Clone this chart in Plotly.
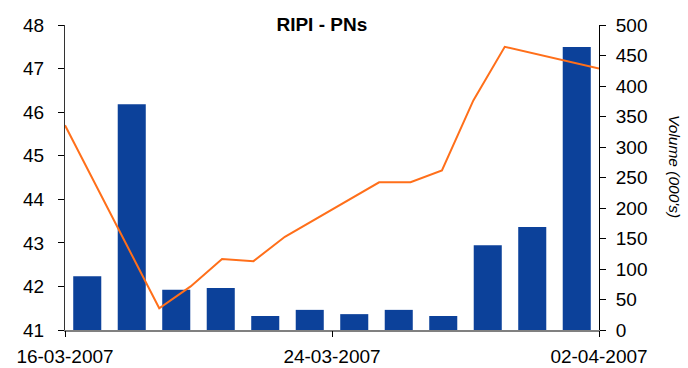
import plotly.graph_objects as go

# Trading days and daily data
trade_dates = ["2007-03-16", "2007-03-19", "2007-03-20", "2007-03-21", "2007-03-22",
               "2007-03-23", "2007-03-26", "2007-03-27", "2007-03-28", "2007-03-29",
               "2007-03-30", "2007-04-02"]
volume_000s = [88, 370, 66, 69, 23, 33, 26, 33, 23, 139, 169, 464]
price = [45.7, 41.5, 42.0, 42.63, 42.58, 43.14, 44.39, 44.39, 44.66, 46.27, 47.5, 47.0]

tick_dates = ["2007-03-16", "2007-03-24 12:00", "2007-04-02"]
tick_labels = ["16-03-2007", "24-03-2007", "02-04-2007"]

FONT = "Arial, Liberation Sans, sans-serif"
BAR_COLOR = "#0C419A"
LINE_COLOR = "#FF6F1A"

fig = go.Figure()

# Volume bars on the category axis (drawn first, underneath)
fig.add_trace(go.Bar(
    x=trade_dates, y=volume_000s, xaxis="x", yaxis="y",
    marker=dict(color=BAR_COLOR, line=dict(width=0)),
    name="Volume", showlegend=False,
))

# Price line on the calendar date axis
fig.add_trace(go.Scatter(
    x=trade_dates, y=price, xaxis="x2", yaxis="y2",
    mode="lines", line=dict(color=LINE_COLOR, width=2),
    name="Price", showlegend=False,
))

fig.update_layout(
    width=688, height=368,
    margin=dict(l=65, r=89, t=25, b=38, autoexpand=False),
    paper_bgcolor="white", plot_bgcolor="white",
    font=dict(family=FONT, size=19, color="#000"),
    bargap=0.37,
    title=dict(
        text="<b>RIPI - PNs</b>", font=dict(family=FONT, size=19, color="#000"),
        xref="paper", x=0.481, xanchor="center",
        yref="container", y=0.9334, yanchor="middle",
    ),
    xaxis=dict(
        type="category", range=[-0.5, 11.5], automargin=False,
        showticklabels=False, ticks="", showgrid=False, zeroline=False,
        showline=True, linecolor="#808080", linewidth=1.5,
    ),
    xaxis2=dict(
        type="date", overlaying="x", anchor="y", side="bottom", automargin=False,
        range=["2007-03-16", "2007-04-02"],
        tickmode="array", tickvals=tick_dates, ticktext=tick_labels,
        ticks="outside", ticklen=6, tickcolor="#000", tickwidth=1,
        ticklabelstandoff=3,
        showgrid=False, zeroline=False, showline=False,
        tickfont=dict(family=FONT, size=19, color="#000"),
    ),
    yaxis=dict(
        side="right", anchor="x", range=[0, 500], dtick=50, tick0=0, automargin=False,
        ticks="outside", ticklen=6, tickcolor="#000",
        showline=True, linecolor="#000", linewidth=1,
        showgrid=False, zeroline=False, ticklabelstandoff=6,
        tickfont=dict(family=FONT, size=19, color="#000"),
    ),
    yaxis2=dict(
        overlaying="y", side="left", anchor="x", range=[41, 48], dtick=1, tick0=41,
        automargin=False,
        ticks="outside", ticklen=6, tickcolor="#000",
        showline=True, linecolor="#333", linewidth=1,
        showgrid=False, zeroline=False, ticklabelstandoff=10,
        tickfont=dict(family=FONT, size=19, color="#000"),
    ),
    annotations=[dict(
        text="<i>Volume (000's)</i>", textangle=90,
        xref="paper", yref="paper", x=1.1414, y=0.536,
        xanchor="center", yanchor="middle", showarrow=False,
        font=dict(family=FONT, size=15.5, color="#000"),
    )],
)

fig.write_html("out.html")
